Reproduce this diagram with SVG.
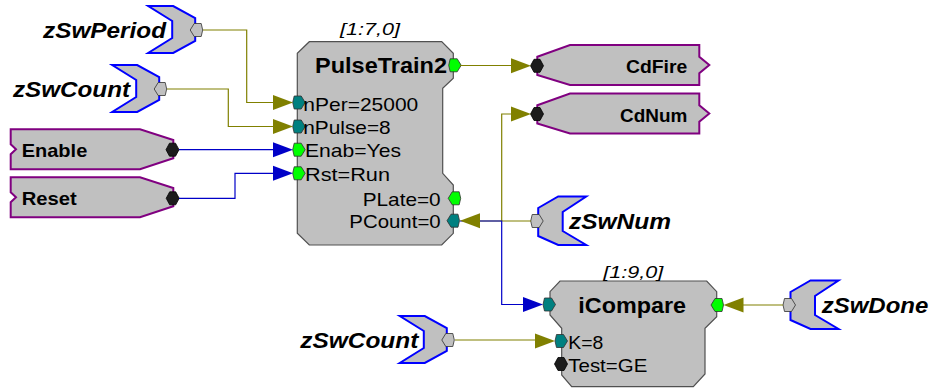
<svg xmlns="http://www.w3.org/2000/svg" width="932" height="389" viewBox="0 0 932 389">
<style>
.blk{fill:#c0c0c0;stroke:#505050;stroke-width:1.2}
.src{fill:#c0c0c0;stroke:#0000ff;stroke-width:2}
.sig{fill:#c0c0c0;stroke:#800080;stroke-width:2}
.teal{fill:#008080;stroke:#303030;stroke-width:0.8}
.grn{fill:#00ff00;stroke:#303030;stroke-width:0.8}
.blk-p{fill:#1c1c1c;stroke:#000;stroke-width:0.8}
.gry{fill:#c0c0c0;stroke:#303030;stroke-width:0.8}
.ol{fill:none;stroke:#808000;stroke-width:1.2}
.bl{fill:none;stroke:#0000c8;stroke-width:1.2}
.olA{fill:#808000}
.blA{fill:#0000c8}
.zs{font-family:"Liberation Sans",Arial,sans-serif;font-weight:bold;font-style:italic;font-size:22px;fill:#000}
.title{font-family:"Liberation Sans",Arial,sans-serif;font-weight:bold;font-size:22px;fill:#000}
.lbl{font-family:"Liberation Sans",Arial,sans-serif;font-weight:bold;font-size:19px;fill:#000}
.pt{font-family:"Liberation Sans",Arial,sans-serif;font-size:19px;fill:#000}
.id{font-family:"Liberation Sans",Arial,sans-serif;font-style:italic;font-size:17px;fill:#000}
</style>
<defs>
<polygon id="srcR" points="-48.5,-24 -23.5,-24 -1.5,-12 -1.5,11 -23.5,23 -48.5,23 -24.5,8 -24.5,-9"/>
<polygon id="srcL" points="1.5,-13 21.5,-24.5 49.5,-24.5 26,-9 26,10 49.5,24 21.5,24 1.5,15"/>
<polygon id="pL" points="-6.5,0 -2.5,-6.5 4.5,-6.5 6,0 4.5,6.5 -2.5,6.5"/>
<polygon id="pR" points="6.5,0 2.5,-6.5 -4.5,-6.5 -6,0 -4.5,6.5 2.5,6.5"/>
<polygon id="pH" points="-6.5,0 -3,-6.5 3,-6.5 6.5,0 3,6.5 -3,6.5"/>
<polygon id="aR" points="-20,-7.5 0,0 -20,7.5"/>
<polygon id="aL" points="20,-7.5 0,0 20,7.5"/>
</defs>

<g id="zSwPeriod">
<use href="#srcR" class="src" x="196.7" y="30"/>
<use href="#pL" class="gry" x="196.7" y="30"/>
<text class="zs" x="166" y="38" text-anchor="end" textLength="123" lengthAdjust="spacingAndGlyphs">zSwPeriod</text>
</g>
<g id="zSwCount1">
<use href="#srcR" class="src" x="160.7" y="89"/>
<use href="#pL" class="gry" x="160.7" y="89"/>
<text class="zs" x="130" y="97" text-anchor="end" textLength="117" lengthAdjust="spacingAndGlyphs">zSwCount</text>
</g>
<g id="Enable">
<polygon class="sig" points="10.7,129.3 140,129.3 173.3,140 173.3,158.3 140,169.3 10.7,169.3 10.7,154.3 16,149.3 10.7,144.3"/>
<use href="#pH" class="blk-p" x="172.5" y="149.7"/>
<text class="lbl" x="21.7" y="157.3" textLength="65.6" lengthAdjust="spacingAndGlyphs">Enable</text>
</g>
<g id="Reset">
<polygon class="sig" points="10.7,177.3 140,177.3 173.3,188 173.3,206.3 140,217.3 10.7,217.3 10.7,202.3 16,197.3 10.7,192.3"/>
<use href="#pH" class="blk-p" x="172.7" y="198.3"/>
<text class="lbl" x="21.7" y="205" textLength="55" lengthAdjust="spacingAndGlyphs">Reset</text>
</g>

<g id="PulseTrain2">
<polygon class="blk" points="309.3,41.7 441.7,41.7 453.3,53.3 453.3,78.3 442.7,88.3 442.7,173.3 453.3,185 453.3,233.3 441.7,245 309.3,245 297.3,233.3 297.3,53.3"/>
<text class="id" x="340" y="35" textLength="60" lengthAdjust="spacingAndGlyphs">[1:7,0]</text>
<text class="title" x="315" y="73.3" textLength="132" lengthAdjust="spacingAndGlyphs">PulseTrain2</text>
<use href="#pR" class="grn" x="454.7" y="65.3"/>
<use href="#pR" class="teal" x="298.7" y="102.5"/>
<use href="#pR" class="teal" x="298.7" y="126.5"/>
<use href="#pR" class="grn" x="298.7" y="149.7"/>
<use href="#pR" class="grn" x="298.7" y="173.3"/>
<use href="#pL" class="grn" x="454.7" y="198.3"/>
<use href="#pL" class="teal" x="453.5" y="220.7"/>
<text class="pt" x="303.3" y="110.5" textLength="115" lengthAdjust="spacingAndGlyphs">nPer=25000</text>
<text class="pt" x="303.3" y="134" textLength="87.4" lengthAdjust="spacingAndGlyphs">nPulse=8</text>
<text class="pt" x="305" y="157.3" textLength="96" lengthAdjust="spacingAndGlyphs">Enab=Yes</text>
<text class="pt" x="305" y="180.8" textLength="85" lengthAdjust="spacingAndGlyphs">Rst=Run</text>
<text class="pt" x="362.7" y="205.8" textLength="78" lengthAdjust="spacingAndGlyphs">PLate=0</text>
<text class="pt" x="349.3" y="228" textLength="91.4" lengthAdjust="spacingAndGlyphs">PCount=0</text>
</g>

<g id="CdFire">
<polygon class="sig" points="570,45 699.3,45 699.3,56.7 709.3,65 699.3,73.3 699.3,85 570,85 537.3,75 537.3,56.7"/>
<use href="#pH" class="blk-p" x="537" y="65.8"/>
<text class="lbl" x="687.3" y="73.3" text-anchor="end" textLength="61.3" lengthAdjust="spacingAndGlyphs">CdFire</text>
</g>
<g id="CdNum">
<polygon class="sig" points="570,93.5 699.3,93.5 699.3,105.2 709.3,113.5 699.3,121.8 699.3,133.5 570,133.5 537.3,123.5 537.3,105.2"/>
<use href="#pH" class="blk-p" x="537" y="114"/>
<text class="lbl" x="687.3" y="121.7" text-anchor="end" textLength="67.3" lengthAdjust="spacingAndGlyphs">CdNum</text>
</g>

<g id="zSwNum">
<use href="#srcL" class="src" x="536.7" y="221"/>
<use href="#pR" class="gry" x="536.7" y="221"/>
<text class="zs" x="569" y="229" textLength="102" lengthAdjust="spacingAndGlyphs">zSwNum</text>
</g>

<g id="iCompare">
<polygon class="blk" points="560,281 706.7,281 716.7,291.7 716.7,316.7 705,328.3 705,374 693.3,386.7 571.7,386.7 561.7,375 561.7,328.3 550,315 550,291.7"/>
<text class="id" x="603.3" y="277.5" textLength="60" lengthAdjust="spacingAndGlyphs">[1:9,0]</text>
<text class="title" x="578.3" y="313.3" textLength="107.7" lengthAdjust="spacingAndGlyphs">iCompare</text>
<use href="#pR" class="teal" x="549" y="304.5"/>
<use href="#pL" class="grn" x="717.5" y="305"/>
<use href="#pR" class="teal" x="561" y="341"/>
<use href="#pH" class="blk-p" x="561" y="364"/>
<text class="pt" x="568.3" y="349" textLength="35" lengthAdjust="spacingAndGlyphs">K=8</text>
<text class="pt" x="568.3" y="371.7" textLength="79" lengthAdjust="spacingAndGlyphs">Test=GE</text>
</g>

<g id="zSwCount2">
<use href="#srcR" class="src" x="448.3" y="340"/>
<use href="#pL" class="gry" x="448.3" y="340"/>
<text class="zs" x="418.3" y="348" text-anchor="end" textLength="118" lengthAdjust="spacingAndGlyphs">zSwCount</text>
</g>
<g id="zSwDone">
<use href="#srcL" class="src" x="789" y="305"/>
<use href="#pR" class="gry" x="789" y="305"/>
<text class="zs" x="821.7" y="313" textLength="106.6" lengthAdjust="spacingAndGlyphs">zSwDone</text>
</g>

<g id="connectors">
<path class="ol" d="M203,30 H246.7 V102.5 H275"/>
<path class="ol" d="M167,89 H228.3 V126.5 H275"/>
<path class="ol" d="M460,65.5 H513"/>
<path class="ol" d="M531,221 H478"/>
<path class="ol" d="M501.7,221 V114 H513"/>
<path class="ol" d="M455,340 H537"/>
<path class="ol" d="M783,305 H741"/>
<path class="bl" d="M179,149.7 H275"/>
<path class="bl" d="M179,198.3 H235 V173.3 H275"/>
<path class="bl" d="M460,221 H501.7 V304.5 H525"/>
<use href="#aR" class="olA" x="293" y="102.5"/>
<use href="#aR" class="olA" x="293" y="126.5"/>
<use href="#aR" class="blA" x="293" y="149.7"/>
<use href="#aR" class="blA" x="293" y="173.3"/>
<use href="#aR" class="olA" x="531" y="65.8"/>
<use href="#aR" class="olA" x="531" y="114"/>
<use href="#aL" class="olA" x="460" y="220.7"/>
<use href="#aR" class="blA" x="543" y="304.5"/>
<use href="#aR" class="olA" x="555" y="341"/>
<use href="#aL" class="olA" x="723.5" y="305"/>
</g>
</svg>
